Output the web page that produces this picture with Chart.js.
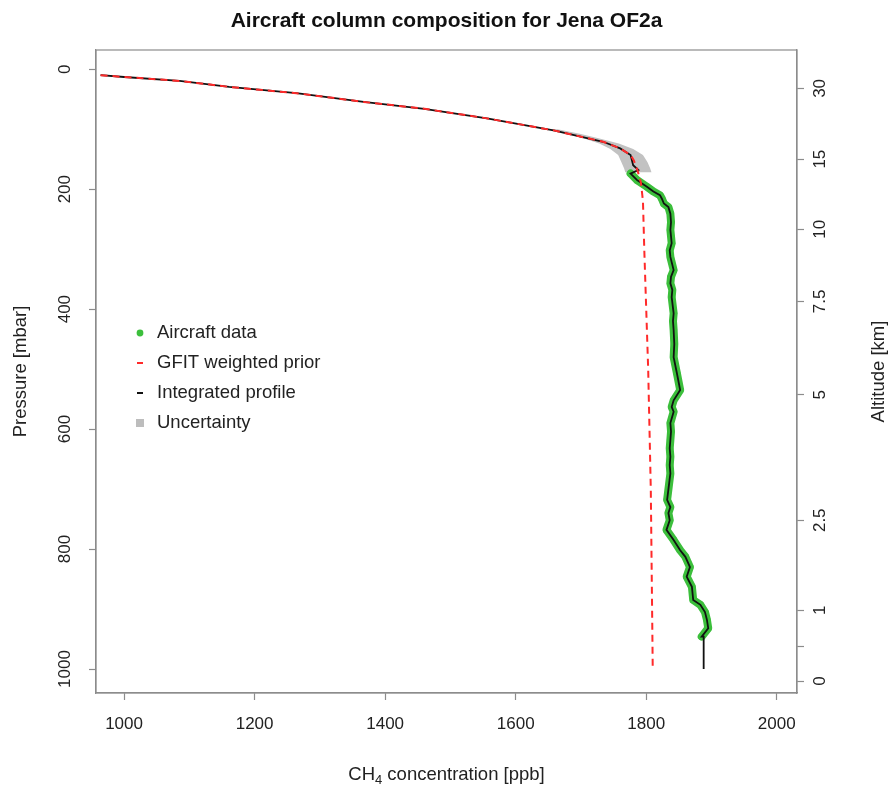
<!DOCTYPE html>
<html><head><meta charset="utf-8">
<script src="https://cdn.jsdelivr.net/npm/chart.js@4/dist/chart.umd.min.js"></script>
<style>html,body{margin:0;padding:0;background:#fff;}#wrap{width:894px;height:789px;position:relative}</style>
</head><body><div id="wrap"><canvas id="c" width="894" height="789"></canvas></div>
<script>
const titleText = 'Aircraft column composition for Jena OF2a';
const xTicks = [1000, 1200, 1400, 1600, 1800, 2000];
const pressureTicks = [0, 200, 400, 600, 800, 1000];
const altitudeTickPressure = [1020, 962, 902, 752, 543, 387, 267, 150, 32];
const altitudeTickLabels = ['0', '', '1', '2.5', '5', '7.5', '10', '15', '30'];
const legendLabels = ['Aircraft data', 'GFIT weighted prior', 'Integrated profile', 'Uncertainty'];

// upper part shared by prior and integrated profile (ppb, mbar)
const upperPpb = [964, 1000, 1085, 1161, 1264, 1367, 1460, 1556, 1658, 1734, 1760, 1776];
const upperP   = [10, 13, 19.5, 29.5, 40, 54.5, 66, 82, 102, 121, 132, 143];

// GFIT weighted prior below the shared part
const priorPpb = [1781, 1787, 1792, 1795, 1797, 1800, 1803, 1805, 1807, 1808, 1809, 1810];
const priorP   = [152, 170, 190, 220, 300, 400, 500, 600, 700, 800, 900, 1002];

// integrated profile joining segment and surface extension
const joinPpb = [1780, 1788];
const joinP   = [160, 168];
const surfacePpb = [1888, 1888];
const surfaceP   = [946, 1000];

// aircraft data
const aircraftPpb = [1776, 1786, 1801, 1811, 1821, 1824, 1827, 1834, 1837, 1838, 1837, 1839, 1836, 1837, 1842, 1838, 1837, 1840, 1839, 1842, 1841, 1842, 1843, 1842, 1847, 1852, 1842, 1839, 1842, 1837, 1838, 1837, 1836, 1837, 1836, 1837, 1832, 1837, 1834, 1836, 1831, 1842, 1852, 1860, 1867, 1862, 1870, 1872, 1883, 1890, 1893, 1895, 1885];
const aircraftP   = [174, 185, 196, 204, 210, 216, 224, 230, 241, 255, 268, 290, 302, 313, 335, 346, 357, 368, 380, 407, 420, 435, 458, 480, 507, 535, 552, 563, 571, 590, 604, 618, 632, 646, 660, 674, 718, 730, 740, 752, 768, 785, 802, 813, 830, 846, 863, 885, 893, 905, 918, 932, 946];

// uncertainty band
const bandP     = [100, 108, 116, 124, 133, 143, 155, 165, 172];
const bandLeft  = [1654, 1680, 1706, 1728, 1745, 1757, 1762, 1766, 1768];
const bandRight = [1664, 1700, 1730, 1758, 1780, 1795, 1802, 1806, 1808];

const pts = (xs, ys) => xs.map((x, i) => ({x: x, y: ys[i]}));
const upperPts = pts(upperPpb, upperP);
const priorData = upperPts.concat(pts(priorPpb, priorP));
const integratedData = upperPts.concat(pts(joinPpb, joinP), pts(aircraftPpb, aircraftP), pts(surfacePpb, surfaceP));
const aircraftData = pts(aircraftPpb, aircraftP);
const bandData = pts(bandLeft, bandP).concat(pts(bandRight, bandP).reverse());

const FONT = '"Liberation Sans", Arial, Helvetica, sans-serif';
const GREEN = '#3cbf3c';
const AX = '#8c8c8c';

const decor = {
  id: 'decor',
  afterDraw(chart) {
    const ctx = chart.ctx, a = chart.chartArea;
    ctx.save();
    ctx.strokeStyle = AX; ctx.lineWidth = 1.2;
    ctx.strokeRect(a.left, a.top, a.right - a.left, a.bottom - a.top);
    // title
    ctx.fillStyle = '#111';
    ctx.font = 'bold 21px ' + FONT;
    ctx.textAlign = 'center'; ctx.textBaseline = 'middle';
    ctx.fillText(titleText, (a.left + a.right) / 2, 21);
    // axis titles
    ctx.font = '18.5px ' + FONT; ctx.fillStyle = '#222';
    const cy = (a.top + a.bottom) / 2;
    ctx.save(); ctx.translate(21, cy); ctx.rotate(-Math.PI / 2); ctx.fillText('Pressure [mbar]', 0, 0); ctx.restore();
    ctx.save(); ctx.translate(879, cy); ctx.rotate(-Math.PI / 2); ctx.fillText('Altitude [km]', 0, 0); ctx.restore();
    // x title with subscript
    const p1 = 'CH', sub = '4', p2 = ' concentration [ppb]';
    ctx.font = '18.5px ' + FONT; const w1 = ctx.measureText(p1).width, w3 = ctx.measureText(p2).width;
    ctx.font = '13px ' + FONT; const w2 = ctx.measureText(sub).width;
    let x0 = (a.left + a.right) / 2 - (w1 + w2 + w3) / 2, ty = 775;
    ctx.textAlign = 'left';
    ctx.font = '18.5px ' + FONT; ctx.fillText(p1, x0, ty);
    ctx.font = '13px ' + FONT; ctx.fillText(sub, x0 + w1, ty + 5);
    ctx.font = '18.5px ' + FONT; ctx.fillText(p2, x0 + w1 + w2, ty);
    // legend
    const rows = [333, 363, 393, 423], sx = 140, tx = 157;
    ctx.font = '18.5px ' + FONT; ctx.fillStyle = '#222'; ctx.textAlign = 'left';
    legendLabels.forEach((t, i) => ctx.fillText(t, tx, rows[i]));
    ctx.fillStyle = GREEN; ctx.beginPath(); ctx.arc(sx, rows[0], 3.4, 0, Math.PI * 2); ctx.fill();
    ctx.lineWidth = 2;
    ctx.strokeStyle = '#ff2a2a'; ctx.beginPath(); ctx.moveTo(sx - 3, rows[1]); ctx.lineTo(sx + 3, rows[1]); ctx.stroke();
    ctx.strokeStyle = '#111'; ctx.beginPath(); ctx.moveTo(sx - 3, rows[2]); ctx.lineTo(sx + 3, rows[2]); ctx.stroke();
    ctx.fillStyle = '#bdbdbd'; ctx.fillRect(sx - 4, rows[3] - 4, 8, 8);
    ctx.restore();
  }
};

const tickFont = {family: FONT, size: 17};
const axisCommon = {
  grid: {display: true, drawOnChartArea: false, drawTicks: true, tickLength: 7, color: AX, tickWidth: 1.2},
  border: {display: true, color: AX, width: 1.2}
};

new Chart(document.getElementById('c'), {
  type: 'scatter',
  data: {
    datasets: [
      {label: 'GFIT weighted prior', data: priorData, showLine: true, borderColor: '#ff2a2a', borderWidth: 2, borderDash: [7, 5], pointRadius: 0, fill: false, tension: 0},
      {label: 'Integrated profile', data: integratedData, showLine: true, borderColor: '#111', borderWidth: 1.8, pointRadius: 0, fill: false, tension: 0},
      {label: 'Aircraft data', data: aircraftData, showLine: true, borderColor: GREEN, borderWidth: 8, pointRadius: 3.5, pointBackgroundColor: GREEN, pointBorderWidth: 0, fill: false, tension: 0, borderJoinStyle: 'round', borderCapStyle: 'round'},
      {label: 'Uncertainty', data: bandData, showLine: true, borderWidth: 0, borderColor: 'rgba(0,0,0,0)', backgroundColor: '#c2c2c2', pointRadius: 0, fill: 'shape', tension: 0}
    ]
  },
  options: {
    responsive: false, animation: false, events: [],
    layout: {padding: {top: 50, left: 0, right: 0, bottom: 0}},
    plugins: {legend: {display: false}, tooltip: {enabled: false}, title: {display: false}},
    scales: {
      x: Object.assign({}, axisCommon, {
        type: 'linear', position: 'bottom', min: 957, max: 2031,
        afterBuildTicks: s => { s.ticks = xTicks.map(v => ({value: v})); },
        afterFit: s => { s.height = 96; },
        ticks: {font: tickFont, color: '#222', padding: 14, maxRotation: 0, minRotation: 0, callback: v => String(v)}
      }),
      y: Object.assign({}, axisCommon, {
        type: 'linear', position: 'left', reverse: true, min: -32, max: 1040,
        afterBuildTicks: s => { s.ticks = pressureTicks.map(v => ({value: v})); },
        afterFit: s => { s.width = 96; },
        ticks: {font: tickFont, color: '#222', padding: 5, minRotation: 90, maxRotation: 90, crossAlign: 'center', callback: v => String(v)}
      }),
      y2: Object.assign({}, axisCommon, {
        type: 'linear', position: 'right', reverse: true, min: -32, max: 1040,
        afterBuildTicks: s => { s.ticks = altitudeTickPressure.map(v => ({value: v})); },
        afterFit: s => { s.width = 97; },
        ticks: {font: tickFont, color: '#222', padding: 4, minRotation: 90, maxRotation: 90, crossAlign: 'center',
          callback: (v) => { const i = altitudeTickPressure.indexOf(v); return i >= 0 ? altitudeTickLabels[i] : ''; }}
      })
    }
  },
  plugins: [decor]
});
</script></body></html>
